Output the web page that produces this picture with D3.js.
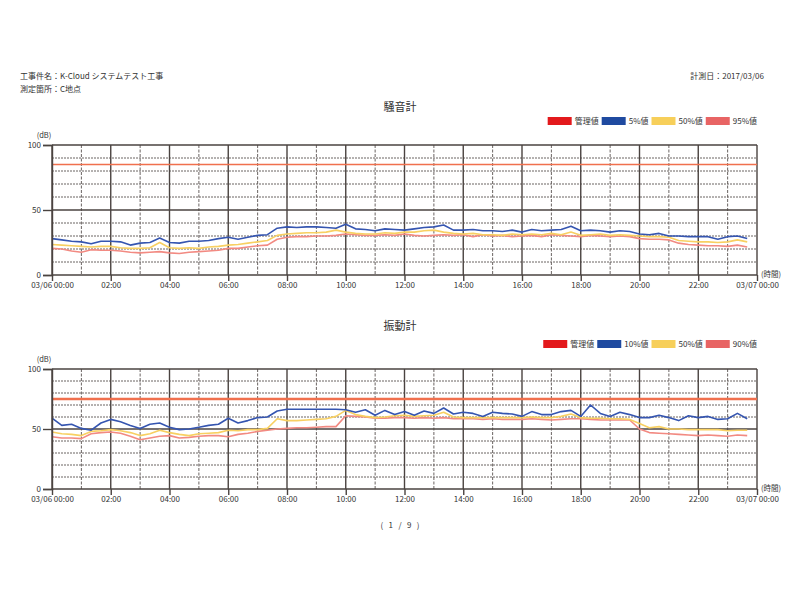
<!DOCTYPE html>
<html>
<head>
<meta charset="utf-8">
<script src="https://cdn.jsdelivr.net/npm/d3@7"></script>
<style>
  body { margin: 0; background: #fff; }
  text { font-family: "Noto Sans CJK JP", "Noto Sans", sans-serif; fill: #333; }
</style>
</head>
<body>
<script>
// sample interval (minutes) of the measurement data
var STEP = 20;

var hourTicks = [0, 120, 240, 360, 480, 600, 720, 840, 960, 1080, 1200, 1320, 1440];
var tickLabels = ["03/06 00:00", "02:00", "04:00", "06:00", "08:00", "10:00", "12:00",
  "14:00", "16:00", "18:00", "20:00", "22:00", "03/07 00:00"];
var yTicks = [0, 50, 100];

// 騒音計
var noiseLimit = 85;
var noiseLabels = ["管理値", "5%値", "50%値", "95%値"];
var noiseL5 = [
  28, 27, 26, 25.5, 24, 26, 26, 25.5, 23, 24.5, 25, 28.5,
  25, 24.5, 26, 26, 26.5, 28, 29, 27.5, 29, 30.5, 31, 36,
  37, 36.5, 37, 37, 36.5, 36, 39, 35.5, 35, 34, 35.5, 35,
  34.5, 35.5, 36.5, 37, 38.5, 34.5, 34.5, 35, 34, 34, 33.5, 34.5,
  33, 35, 34, 34.5, 35, 37.5, 34, 34.5, 34, 33, 34, 33.5,
  31.5, 31, 32, 30, 30, 29.5, 29.5, 29.5, 27.5, 29.5, 30, 28];
var noiseL50 = [
  23.5, 23, 22.5, 22, 21.5, 22, 22, 21, 20.5, 20.5, 21, 25,
  21, 20.5, 21, 20.5, 21.5, 22, 23, 23.5, 24.5, 25.5, 26.5, 30.5,
  31.5, 32, 32.5, 32.5, 33, 34.5, 33, 32, 31.5, 31.5, 32.5, 32,
  33, 33, 34, 34.5, 33, 32, 31.5, 32, 31, 31, 30.5, 31.5,
  31, 31.5, 31, 32, 31, 33, 30.5, 31, 31.5, 30.5, 31, 30.5,
  30, 29.5, 29.5, 29, 26.5, 26, 25.5, 25.5, 25, 25.5, 27, 25.5];
var noiseL95 = [
  20.5, 20, 18.5, 17.5, 19.5, 19, 19, 18.5, 17.5, 17, 17.5, 18,
  17, 16.5, 17.5, 18, 18.5, 19, 20.5, 20.5, 21.5, 22.5, 23, 27.5,
  29, 29.5, 29.5, 30, 30, 30.5, 31.5, 31, 30.5, 30.5, 31, 30.5,
  31.5, 30.5, 30, 30.5, 31, 30.5, 31, 29.5, 31, 30, 30.5, 29.5,
  30, 30.5, 29.5, 31, 30.5, 30, 29.5, 30.5, 30, 29.5, 30, 29.5,
  28, 27.5, 27.5, 27, 24.5, 23.5, 23, 22.5, 22.5, 22, 23, 21.5];

// 振動計
var vibLimit = 75;
var vibLabels = ["管理値", "10%値", "50%値", "90%値"];
var vibL10 = [
  59, 53, 54, 50.5, 49, 55, 58, 56, 53, 50.5, 54, 55,
  51.5, 49.5, 50, 51.5, 53, 54, 59, 55, 57, 59.5, 60, 65,
  66.5, 66.5, 66.5, 66.5, 66.5, 66.5, 66, 64, 66, 61.5, 65.5, 62,
  64.5, 61.5, 65, 63, 67.5, 62.5, 64, 63, 60.5, 64, 63, 62.5,
  60.5, 64.5, 62, 62, 64.5, 65.5, 60.5, 70, 63, 60.5, 64, 62,
  59.5, 59.5, 61.5, 59.5, 57, 61, 59.5, 60.5, 58, 58.5, 63, 58.5];
var vibL50 = [
  47.5, 46, 45.5, 44.5, 48, 48.5, 49.5, 48.5, 47, 44.5, 46, 49,
  47, 45.5, 44.5, 46, 46.5, 47, 49, 48.5, 49.5, 49.5, 50.5, 58.5,
  57, 57, 57.5, 58, 58.5, 60.5, 65.5, 62, 60.5, 59.5, 60, 61,
  61.5, 60.5, 61, 61.5, 64, 60, 59.5, 59.5, 59.5, 59.5, 59.5, 59.5,
  59.5, 60, 59.5, 59.5, 60.5, 62.5, 59.5, 59, 59, 58.5, 58.5, 58,
  54.5, 51, 52, 50, 50, 49.5, 49.5, 49.5, 49.5, 48.5, 49, 49];
var vibL90 = [
  43.5, 42.5, 42.5, 42, 46, 47, 47.5, 46.5, 44, 41, 42.5, 44,
  44.5, 42.5, 43, 44, 44.5, 44.5, 43.5, 45.5, 46.5, 48, 49, 50,
  50.5, 51, 51, 51.5, 52, 52, 61, 60.5, 60, 59, 59, 59.5,
  59.5, 59, 59.5, 59, 59.5, 58.5, 58.5, 58.5, 58, 58.5, 58, 58,
  58, 58.5, 58, 57.5, 58, 58.5, 58.5, 58, 57.5, 57.5, 57.5, 57.5,
  50, 47, 46.5, 46, 45.5, 45, 44.5, 45, 44.5, 44, 45, 44.5];

var legendColors = ["#e3191c", "#1f4aa0", "#f7cf5a", "#e86464"];
var lineColors = ["#f0704e", "#3555b0", "#f8d062", "#f28a82"];

var W = 800, H = 600;
var svg = d3.select("body").append("svg").attr("width", W).attr("height", H);

// header
svg.append("text").attr("x", 20).attr("y", 79).attr("font-size", 8).text("工事件名：K-Cloud システムテスト工事");
svg.append("text").attr("x", 20).attr("y", 92).attr("font-size", 8).text("測定箇所：C地点");
svg.append("text").attr("x", 764).attr("y", 79).attr("font-size", 8).attr("text-anchor", "end").text("計測日：2017/03/06");
svg.append("text").attr("x", 400).attr("y", 528).attr("font-size", 8).attr("text-anchor", "middle")
  .attr("xml:space", "preserve").style("white-space", "pre").text("(   1   /   9   )");

var left = 52, right = 757;
var gridDark = "#4a4340", gridDash = "#6a6462";

function drawChart(cfg) {
  var x = d3.scaleLinear().domain([0, 1440]).range([left, right]);
  var y = d3.scaleLinear().domain([0, 100]).range([cfg.bottom, cfg.top]);
  var g = svg.append("g");

  // title
  g.append("text").attr("x", 400).attr("y", cfg.titleY).attr("text-anchor", "middle")
    .attr("font-size", 11).text(cfg.title);

  // legend, right aligned
  var leg = g.append("g");
  var lx = 0;
  cfg.labels.forEach(function(lab, i) {
    leg.append("rect").attr("x", lx).attr("y", -4).attr("width", 24).attr("height", 8)
      .attr("fill", legendColors[i]);
    var t = leg.append("text").attr("x", lx + 27).attr("y", 3).attr("font-size", 8).text(lab);
    lx += 27 + t.node().getComputedTextLength() + 3;
  });
  leg.attr("transform", "translate(" + (right + 3 - lx) + "," + cfg.legendY + ")");

  // horizontal dashed grid every 10
  var hgrid = d3.range(10, 100, 10).filter(function(v) { return v !== 50; });
  g.selectAll(".hg").data(hgrid).enter().append("line")
    .attr("x1", left).attr("x2", right)
    .attr("y1", function(d) { return y(d); }).attr("y2", function(d) { return y(d); })
    .attr("stroke", gridDash).attr("stroke-width", 1).attr("stroke-dasharray", "2,1");
  // vertical dashed grid every hour
  var vgrid = d3.range(60, 1440, 120);
  g.selectAll(".vg").data(vgrid).enter().append("line")
    .attr("x1", function(d) { return x(d); }).attr("x2", function(d) { return x(d); })
    .attr("y1", cfg.top).attr("y2", cfg.bottom)
    .attr("stroke", gridDash).attr("stroke-width", 1).attr("stroke-dasharray", "3,1.5");
  // solid grid
  g.selectAll(".vs").data(hourTicks).enter().append("line")
    .attr("x1", function(d) { return x(d); }).attr("x2", function(d) { return x(d); })
    .attr("y1", cfg.top).attr("y2", cfg.bottom)
    .attr("stroke", gridDark).attr("stroke-width", 1.4);
  g.selectAll(".hs").data(yTicks).enter().append("line")
    .attr("x1", left).attr("x2", right)
    .attr("y1", function(d) { return y(d); }).attr("y2", function(d) { return y(d); })
    .attr("stroke", gridDark).attr("stroke-width", 1.4);

  // limit line
  g.append("line").attr("x1", left).attr("x2", right)
    .attr("y1", y(cfg.limit)).attr("y2", y(cfg.limit))
    .attr("stroke", lineColors[0]).attr("stroke-width", cfg.limitWidth);

  // series
  var line = d3.line()
    .x(function(d, i) { return x(i * STEP); })
    .y(function(d) { return y(d); });
  [cfg.series[2], cfg.series[1], cfg.series[0]].forEach(function(s, k) {
    g.append("path").datum(s).attr("d", line).attr("fill", "none")
      .attr("stroke", lineColors[3 - k]).attr("stroke-width", 1.6)
      .attr("stroke-linejoin", "round");
  });

  // axes
  var xa = g.append("g").attr("transform", "translate(0," + cfg.bottom + ")")
    .call(d3.axisBottom(x).tickValues(hourTicks).tickSize(6)
      .tickFormat(function(d, i) { return tickLabels[i]; }));
  xa.select(".domain").remove();
  xa.selectAll("line").attr("stroke", gridDark).attr("stroke-width", 1.4);
  xa.selectAll("text").attr("font-size", 8).attr("dy", "0.55em").attr("fill", "#333")
    .style("font-family", '"Noto Sans CJK JP", sans-serif');

  var ya = g.append("g").attr("transform", "translate(" + left + ",0)")
    .call(d3.axisLeft(y).tickValues(yTicks).tickSize(9));
  ya.select(".domain").attr("stroke", gridDark).attr("stroke-width", 1.4);
  ya.selectAll("line").attr("stroke", gridDark).attr("stroke-width", 1.4);
  ya.selectAll("text").attr("font-size", 8).attr("fill", "#333").attr("x", -11)
    .style("font-family", '"Noto Sans CJK JP", sans-serif');

  g.append("text").attr("x", 44).attr("y", cfg.top - 7).attr("text-anchor", "middle")
    .attr("font-size", 7.5).text("(dB)");
  g.append("text").attr("x", right + 4).attr("y", cfg.bottom + 2).attr("font-size", 7.5).text("(時間)");
}

drawChart({
  title: "騒音計", titleY: 111, legendY: 121, top: 145, bottom: 275,
  labels: noiseLabels, limit: noiseLimit, limitWidth: 1.4,
  series: [noiseL5, noiseL50, noiseL95]
});
drawChart({
  title: "振動計", titleY: 330, legendY: 344, top: 369, bottom: 489,
  labels: vibLabels, limit: vibLimit, limitWidth: 2.4,
  series: [vibL10, vibL50, vibL90]
});
</script>
</body>
</html>
